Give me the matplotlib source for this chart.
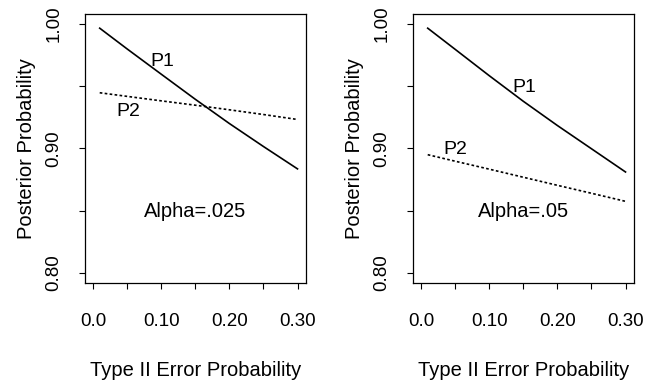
import matplotlib
matplotlib.use("Agg")
import matplotlib.pyplot as plt

plt.rcParams["font.family"] = ["Liberation Sans", "DejaVu Sans"]

# type II error probability (beta)
BETA = [0.01, 0.05, 0.10, 0.15, 0.20, 0.25, 0.30]

# alpha = .025
P1_A025 = [0.9966, 0.9800, 0.9597, 0.9395, 0.9200, 0.9015, 0.8835]
P2_A025 = [0.9447, 0.9418, 0.9382, 0.9347, 0.9310, 0.9272, 0.9232]

# alpha = .05
P1_A05 = [0.9966, 0.9797, 0.9585, 0.9379, 0.9184, 0.8997, 0.8810]
P2_A05 = [0.8949, 0.8897, 0.8833, 0.8768, 0.8703, 0.8639, 0.8574]

XTICKS = [0.0, 0.05, 0.10, 0.15, 0.20, 0.25, 0.30]
XTICKLABELS = ["0.0", "", "0.10", "", "0.20", "", "0.30"]
YTICKS = [0.80, 0.85, 0.90, 0.95, 1.00]
YTICKLABELS = ["0.80", "", "0.90", "", "1.00"]

panels = [
    (P1_A025, P2_A025, "Alpha=.025", (0.102, 0.970), (0.052, 0.930), (0.150, 0.849)),
    (P1_A05, P2_A05, "Alpha=.05", (0.151, 0.9493), (0.050, 0.899), (0.150, 0.849)),
]

W, H = 653, 390
fig = plt.figure(figsize=(W / 100, H / 100), dpi=100)
lefts = [84.7, 412.7]
FS_TICK, FS_TXT, FS_LAB = 13.5, 14, 14.5

for left, (p1, p2, alabel, p1pos, p2pos, apos) in zip(lefts, panels):
    ax = fig.add_axes([left / W, 1 - 282.7 / H, 221 / W, (282.7 - 14) / H])
    ax.plot(BETA, p1, color="black", lw=1.2)
    ax.plot(BETA, p2, color="black", lw=1.2, ls=(0, (1.6, 1.4)))
    ax.text(*p1pos, "P1", fontsize=FS_TXT, ha="center", va="center")
    ax.text(*p2pos, "P2", fontsize=FS_TXT, ha="center", va="center")
    ax.text(*apos, alabel, fontsize=FS_TXT + 0.5, ha="center", va="center")

    ax.set_xlim(-0.012, 0.312)
    ax.set_ylim(0.792, 1.008)
    ax.set_xticks(XTICKS)
    ax.set_xticklabels(XTICKLABELS)
    ax.set_yticks(YTICKS)
    ax.set_yticklabels(YTICKLABELS, rotation=90, va="center")
    ax.tick_params(axis="both", direction="out", length=4, width=0.8, labelsize=FS_TICK, color="black")
    ax.tick_params(axis="x", pad=18)
    ax.tick_params(axis="y", pad=12)
    for s in ax.spines.values():
        s.set_linewidth(0.9)

    ax.set_xlabel("Type II Error Probability", fontsize=FS_LAB)
    ax.set_ylabel("Posterior Probability", fontsize=FS_LAB)
    ax.xaxis.set_label_coords(0.5, -0.325)
    ax.xaxis.label.set_va("center")
    ax.yaxis.set_label_coords(-0.265, 0.5)
    ax.yaxis.label.set_va("center")

fig.savefig("out.png", dpi=100)
